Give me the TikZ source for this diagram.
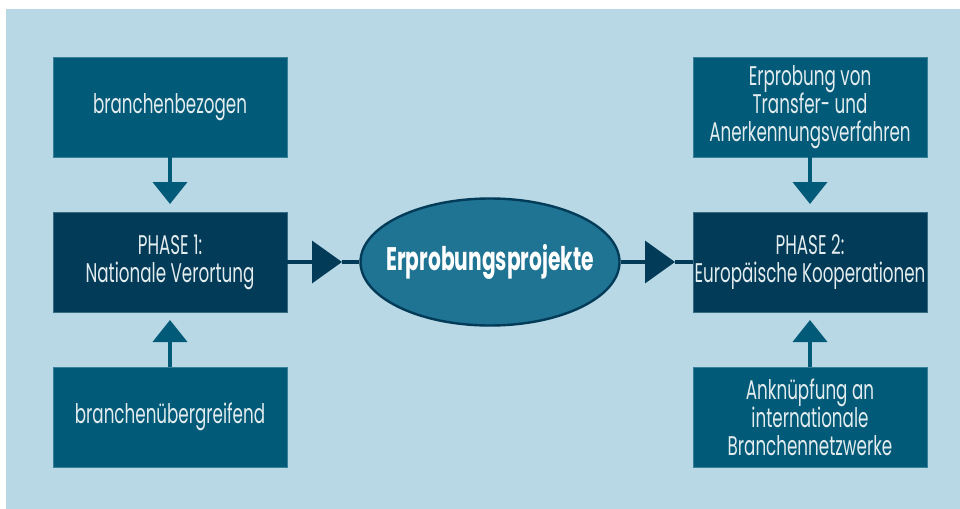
\documentclass[tikz,border=0pt]{standalone}
\usepackage{fontspec}
\setmainfont{Poppins}[FakeStretch=0.62]
\usepackage{xcolor}
\definecolor{bglight}{HTML}{B7D8E4}
\definecolor{tealbox}{HTML}{015A78}
\definecolor{navybox}{HTML}{013B57}
\definecolor{ellfill}{HTML}{1F7494}
\definecolor{textlight}{HTML}{E3ECEF}
\usepackage{tikz}
\usetikzlibrary{shapes,arrows.meta,positioning,calc}

\begin{document}
\begin{tikzpicture}[x=0.5pt, y=-0.5pt,
      sidebox/.style={rectangle, fill=tealbox, draw=tealbox!70!bglight, line width=0.4pt, text=textlight, minimum width=117pt, minimum height=50pt, font=\fontsize{13.5}{14}\selectfont, align=center, inner sep=0pt},
      phasebox/.style={sidebox, fill=navybox, draw=navybox!70!bglight},
      projell/.style={ellipse, fill=ellfill, draw=navybox, line width=1.2pt, text=white, minimum width=129.5pt, minimum height=63.5pt, inner xsep=-8pt, inner ysep=0pt, font=\bfseries\fontsize{16.3}{18}\selectfont},
      varr/.style={-{Triangle[length=11pt, width=17pt]}, tealbox, line width=2pt},
      harr/.style={-{Triangle[length=15pt, width=21pt]}, navybox, line width=1.8pt},
      hline/.style={navybox, line width=1.8pt}
    ]
      \fill[bglight] (6,9) rectangle (960,509);
      \useasboundingbox (0,0) rectangle (960,509);
      \node[sidebox] (bezogen) at (170,107) {branchenbezogen};
      \node[phasebox] (phase1) at (170,262) {PHASE 1:\\Nationale Verortung};
      \node[sidebox] (uebergr) at (170,417) {branchenübergreifend};
      \node[projell] (proj) at (490,262) {Erprobungsprojekte};
      \node[sidebox] (transfer) at (810,107) {Erprobung von\\Transfer- und\\Anerkennungsverfahren};
      \node[phasebox] (phase2) at (810,262) {PHASE 2:\\Europäische Kooperationen};
      \node[sidebox] (netz) at (810,417) {Anknüpfung an\\internationale\\Branchennetzwerke};
      \coordinate (tipL) at (342,262);
      \coordinate (tipR) at (675,262);
      \draw[varr] (bezogen) -- (170,204);
      \draw[varr] (uebergr) -- (170,320);
      \draw[varr] (transfer) -- (810,204);
      \draw[varr] (netz) -- (810,320);
      \draw[harr] (phase1) -- (tipL);
      \draw[hline] (tipL) -- (proj);
      \draw[harr] (proj) -- (tipR);
      \draw[hline] (tipR) -- (phase2);
    \end{tikzpicture}
\end{document}
